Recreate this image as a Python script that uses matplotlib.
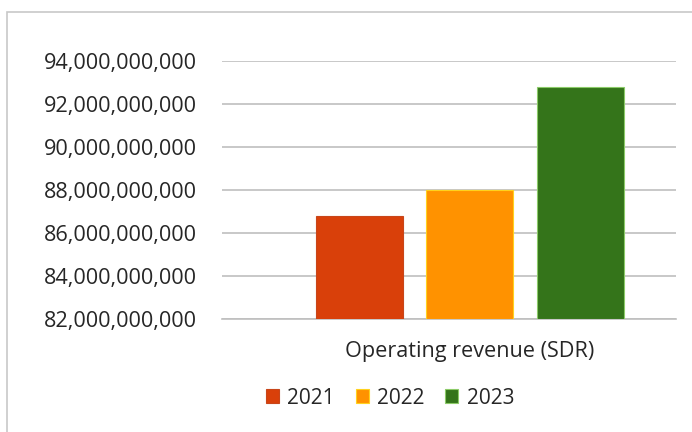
import matplotlib
matplotlib.use("Agg")
import matplotlib.pyplot as plt
from matplotlib.ticker import FuncFormatter
from matplotlib.patches import Rectangle

category = "Operating revenue (SDR)"
years = ["2021", "2022", "2023"]
revenue = [86.8e9, 88.0e9, 92.8e9]
colors = ["#D9400A", "#FF9200", "#34741A"]
edge_colors = ["#C8461A", "#FFD21E", "#8CCB68"]
y_ticks = [82e9, 84e9, 86e9, 88e9, 90e9, 92e9, 94e9]

plt.rcParams["font.family"] = ["Open Sans", "DejaVu Sans"]
text_color = "#262626"
W, H = 692, 432

fig = plt.figure(figsize=(W / 100, H / 100), dpi=100)
fig.patch.set_facecolor("white")

# outer chart frame
fig.add_artist(Rectangle((7 / W, -0.1), 1.2, (H - 12) / H + 0.1,
                         transform=fig.transFigure, fill=False,
                         edgecolor="#C8C8C8", linewidth=1.2))

ax = fig.add_axes([222 / W, 113 / H, (676 - 222) / W, (319 - 61) / H])

offsets = [-1, 0, 1]
bars = []
for off, yr, val, c, ec in zip(offsets, years, revenue, colors, edge_colors):
    b = ax.bar(off, val - y_ticks[0], bottom=y_ticks[0], width=0.79,
               color=c, edgecolor=ec, linewidth=0.8, label=yr, zorder=3)
    bars.append(b)

ax.set_ylim(y_ticks[0], y_ticks[-1])
ax.set_xlim(-2.25, 1.87)
ax.set_yticks(y_ticks)
ax.yaxis.set_major_formatter(FuncFormatter(lambda v, p: f"{v:,.0f}"))
ax.grid(axis="y", color="#BFBFBF", linewidth=1.2, zorder=0)
ax.set_xticks([0])
ax.set_xticklabels([category])
ax.tick_params(axis="x", length=0, pad=16, labelsize=15.6, labelcolor=text_color)
ax.tick_params(axis="y", length=0, pad=18, labelsize=15.6, labelcolor=text_color)
for s in ["top", "right", "left"]:
    ax.spines[s].set_visible(False)
ax.spines["bottom"].set_color("#BFBFBF")
ax.spines["bottom"].set_linewidth(1.2)

leg = fig.legend(handles=[b[0] for b in bars], labels=years, loc="center",
                 bbox_to_anchor=(390 / W, 34 / H), ncol=3, frameon=False,
                 fontsize=15, handlelength=0.62, handleheight=0.62,
                 handletextpad=0.4, columnspacing=1.0)
for t in leg.get_texts():
    t.set_color(text_color)

fig.savefig("out.png", dpi=100, facecolor="white")
